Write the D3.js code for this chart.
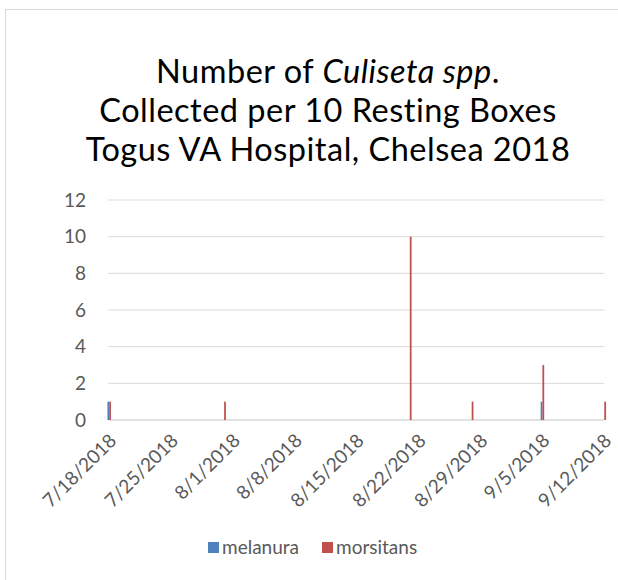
<!DOCTYPE html>
<html>
<head>
<meta charset="utf-8">
<script src="https://cdn.jsdelivr.net/npm/d3@7"></script>
<style>
  body { margin: 0; background: #fff; }
  text { font-family: Lato, "Noto Sans", sans-serif; }
</style>
</head>
<body>
<div id="chart"></div>
<script>
// collection dates and counts
var dates = ["2018-07-18", "2018-07-31", "2018-08-21", "2018-08-28", "2018-09-05", "2018-09-12"];
var melanura = [1, 0, 0, 0, 1, 0];
var morsitans = [1, 1, 10, 1, 3, 1];
var seriesNames = ["melanura", "morsitans"];
var tickDates = ["2018-07-18", "2018-07-25", "2018-08-01", "2018-08-08", "2018-08-15",
                 "2018-08-22", "2018-08-29", "2018-09-05", "2018-09-12"];
var yTicks = [0, 2, 4, 6, 8, 10, 12];

var colors = {melanura: "#4f81bd", morsitans: "#c0504d"};
var parse = d3.utcParse("%Y-%m-%d");
var fmt = d3.utcFormat("%-m/%-d/%Y");

var W = 618, H = 580;

var svg = d3.select("#chart").append("svg")
    .attr("width", W)
    .attr("height", H);

svg.append("rect")
    .attr("x", 5.5).attr("y", 9.5)
    .attr("width", 700).attr("height", 700)
    .attr("fill", "#fff")
    .attr("stroke", "#d9d9d9");

// title
var title = svg.append("text")
    .attr("text-anchor", "middle")
    .attr("font-size", 32.5)
    .attr("letter-spacing", 0.5)
    .attr("fill", "#000");
var l1 = title.append("tspan").attr("x", 328).attr("y", 83);
l1.append("tspan").text("Number of ");
l1.append("tspan").attr("font-style", "italic").text("Culiseta spp");
l1.append("tspan").text(".");
title.append("tspan").attr("x", 328).attr("y", 122).text("Collected per 10 Resting Boxes");
title.append("tspan").attr("x", 328).attr("y", 161).text("Togus VA Hospital, Chelsea 2018");

var x = d3.scaleUtc()
    .domain([parse(tickDates[0]), parse(tickDates[tickDates.length - 1])])
    .range([109.2, 604.3]);

var y = d3.scaleLinear()
    .domain([0, 12])
    .range([420, 200]);

var dayW = x(parse("2018-07-19")) - x(parse("2018-07-18"));
var groupW = dayW / 2.5;
var inner = d3.scaleBand().domain(seriesNames).range([-groupW / 2, groupW / 2]);

// gridlines
svg.append("g")
    .selectAll("line")
    .data(yTicks)
    .enter()
    .append("line")
    .attr("x1", x.range()[0] - 1)
    .attr("x2", x.range()[1])
    .attr("y1", function(d) { return y(d); })
    .attr("y2", function(d) { return y(d); })
    .attr("stroke", "#d9d9d9")
    .attr("stroke-width", function(d) { return d === 0 ? 1.3 : 1; });

// y axis labels
var yAxis = d3.axisLeft(y).tickValues(yTicks).tickSize(0).tickPadding(0);
var gy = svg.append("g")
    .attr("transform", "translate(86,0)")
    .call(yAxis);
gy.select(".domain").remove();
gy.selectAll("text")
    .attr("font-size", 19)
    .attr("fill", "#595959")
    .attr("font-family", "Lato, sans-serif");

// x axis labels
var xAxis = d3.axisBottom(x)
    .tickValues(tickDates.map(parse))
    .tickFormat(fmt)
    .tickSize(0);
var gx = svg.append("g")
    .attr("transform", "translate(0,420)")
    .call(xAxis);
gx.select(".domain").remove();
gx.selectAll("text")
    .attr("font-size", 19)
    .attr("fill", "#595959")
    .attr("font-family", "Lato, sans-serif")
    .attr("text-anchor", "end")
    .attr("dy", "0.35em")
    .attr("transform", "translate(1,15) rotate(-45)");

// bars
var rows = dates.map(function(d, i) {
    return {date: parse(d), melanura: melanura[i], morsitans: morsitans[i]};
});

var groups = svg.append("g")
    .selectAll("g")
    .data(rows)
    .enter()
    .append("g")
    .attr("transform", function(d) { return "translate(" + x(d.date) + ",0)"; });

groups.selectAll("rect")
    .data(function(d) { return seriesNames.map(function(k) { return {key: k, value: d[k]}; }); })
    .enter()
    .append("rect")
    .attr("x", function(d) { return inner(d.key); })
    .attr("width", inner.bandwidth())
    .attr("y", function(d) { return y(d.value); })
    .attr("height", function(d) { return y(0) - y(d.value); })
    .attr("fill", function(d) { return colors[d.key]; });

// legend
var legend = svg.append("g").attr("transform", "translate(208,542)");
var li = legend.selectAll("g")
    .data(seriesNames)
    .enter()
    .append("g")
    .attr("transform", function(d, i) { return "translate(" + (i * 114) + ",0)"; });
li.append("rect")
    .attr("width", 11).attr("height", 11)
    .attr("fill", function(d) { return colors[d]; });
li.append("text")
    .attr("x", 14).attr("y", 5.5)
    .attr("dy", "0.35em")
    .attr("font-size", 19)
    .attr("fill", "#595959")
    .text(function(d) { return d; });
</script>
</body>
</html>
